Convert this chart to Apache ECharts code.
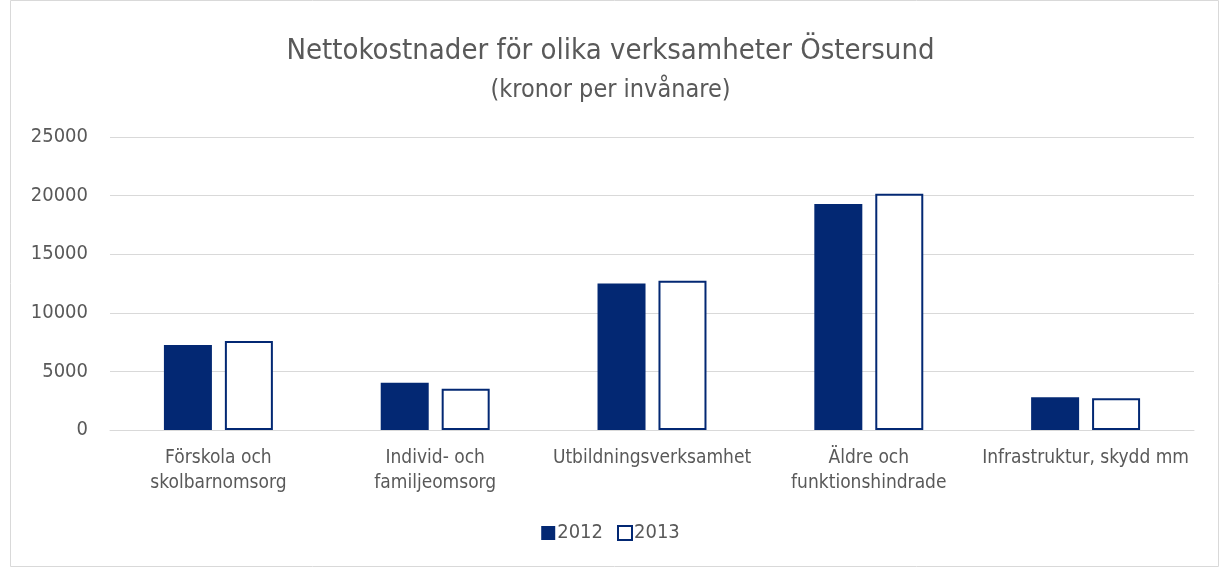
<!DOCTYPE html>
<html>
<head>
<meta charset="utf-8">
<script src="https://cdn.jsdelivr.net/npm/echarts@6/dist/echarts.min.js"></script>
<style>
  html, body { margin: 0; padding: 0; background: #fff; }
  #chart { width: 1221px; height: 568px; }
</style>
</head>
<body>
<div id="chart"></div>
<script>
const categories = [
  "Förskola och\nskolbarnomsorg",
  "Individ- och\nfamiljeomsorg",
  "Utbildningsverksamhet",
  "Äldre och\nfunktionshindrade",
  "Infrastruktur, skydd mm"
];
const values2012 = [7250, 4030, 12500, 19290, 2790];
const values2013 = [7600, 3520, 12730, 20150, 2700];
const yTicks = [0, 5000, 10000, 15000, 20000, 25000];

const font = '"Liberation Sans Narrow", "DejaVu Sans Condensed", "Noto Sans", sans-serif';
const textColor = "#595959";
const navy = "#032873";

const chart = echarts.init(document.getElementById("chart"));
chart.setOption({
  animation: false,
  textStyle: { fontFamily: font },
  graphic: [
    {
      type: "rect",
      shape: { x: 10.5, y: 0.5, width: 1208, height: 566 },
      style: { fill: "none", stroke: "#d9d9d9", lineWidth: 1 },
      silent: true
    }
  ],
  title: {
    text: "Nettokostnader för olika verksamheter Östersund",
    subtext: "(kronor per invånare)",
    left: "center",
    top: 32,
    itemGap: 12,
    textStyle: { fontFamily: font, fontSize: 29, fontWeight: "normal", color: textColor },
    subtextStyle: { fontFamily: font, fontSize: 25, color: textColor }
  },
  legend: {
    bottom: 20,
    left: "center",
    itemWidth: 14,
    itemHeight: 14,
    itemGap: 14,
    textStyle: { fontFamily: font, fontSize: 20, color: textColor, padding: [0, 0, 0, -3] },
    data: [
      { name: "2012", icon: "rect", itemStyle: { color: navy } },
      { name: "2013", icon: "rect", itemStyle: { color: "#fff", borderColor: navy, borderWidth: 2 } }
    ]
  },
  grid: { left: 110, right: 27, top: 137, bottom: 138 },
  xAxis: {
    type: "category",
    data: categories,
    axisTick: { show: false },
    axisLine: { lineStyle: { color: "#d9d9d9", width: 1 } },
    axisLabel: {
      fontFamily: font,
      fontSize: 19,
      color: textColor,
      lineHeight: 25,
      margin: 16,
      interval: 0
    }
  },
  yAxis: {
    type: "value",
    min: yTicks[0],
    max: yTicks[yTicks.length - 1],
    interval: 5000,
    axisLine: { show: false },
    axisTick: { show: false },
    splitLine: { lineStyle: { color: "#d9d9d9", width: 1 } },
    axisLabel: {
      fontFamily: font,
      fontSize: 20,
      color: textColor,
      margin: 22,
      formatter: v => String(v)
    }
  },
  series: [
    {
      name: "2012",
      type: "bar",
      data: values2012,
      barWidth: 48,
      barGap: "27%",
      itemStyle: { color: navy }
    },
    {
      name: "2013",
      type: "bar",
      data: values2013,
      barWidth: 48,
      itemStyle: { color: "#fff", borderColor: navy, borderWidth: 2 }
    }
  ]
});
</script>
</body>
</html>
